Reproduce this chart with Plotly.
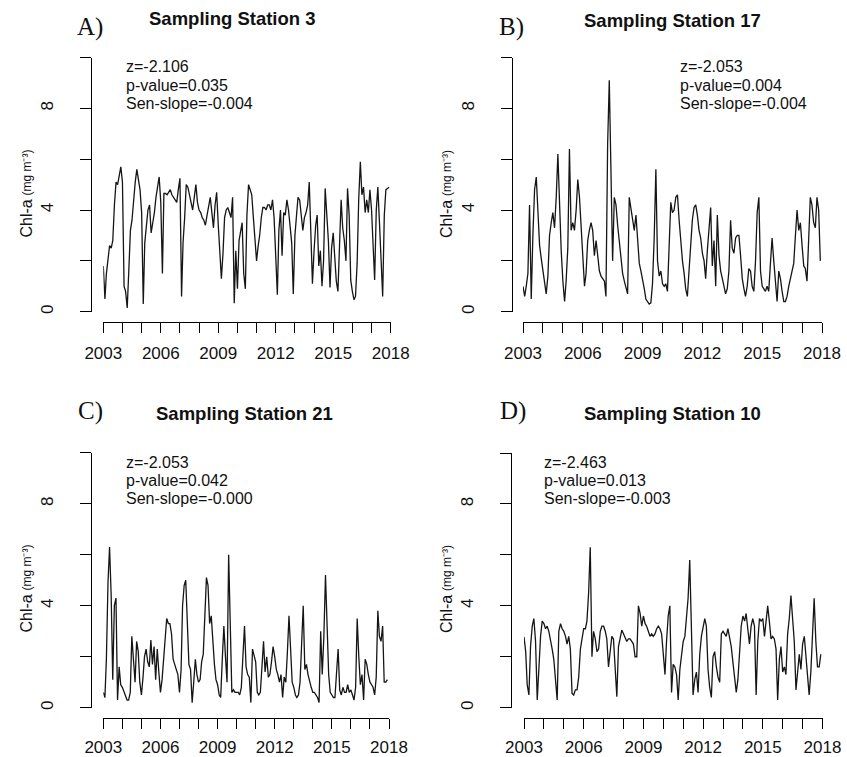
import pandas as pd
import plotly.graph_objects as go

# Monthly chlorophyll-a (mg m^-3), Jan 2003 - Dec 2017
months = pd.date_range("2003-01-01", periods=180, freq="MS")

station_3 = [
    1.8, 0.5, 1.5, 2.2, 2.6, 2.5, 2.8, 4.2, 5.1, 5.0,
    5.3, 5.7, 5.1, 1.0, 0.8, 0.15, 1.6, 3.2, 3.6, 4.4,
    5.1, 5.6, 5.2, 4.8, 3.9, 0.3, 2.7, 3.5, 4.0, 4.2,
    3.1, 3.5, 3.9, 4.5, 5.0, 5.3, 4.3, 1.5, 4.65, 4.65,
    4.6, 4.7, 4.8, 4.6, 4.5, 4.4, 4.3, 4.8, 5.25, 0.6,
    2.7, 3.7, 5.0, 4.9, 4.6, 4.2, 4.0, 4.5, 5.0, 4.3,
    4.0, 3.9, 3.7, 3.6, 3.4, 3.8, 4.2, 4.5, 3.9, 3.3,
    4.2, 4.7, 3.4, 2.05, 1.3, 2.3, 3.7, 4.0, 4.1, 3.9,
    3.7, 4.5, 0.33, 2.4, 0.9, 2.8, 3.1, 3.5, 1.5, 0.9,
    3.8, 5.0, 4.8, 4.6, 3.7, 2.8, 2.0, 2.6, 3.0, 3.7,
    4.1, 4.1, 4.0, 4.2, 4.2, 4.0, 4.4, 3.7, 2.2, 0.67,
    3.2, 4.0, 2.2, 3.9, 3.8, 4.4, 4.0, 3.3, 2.7, 0.7,
    3.0, 3.8, 4.5, 4.4, 3.8, 3.2, 3.7, 3.9, 4.2, 5.1,
    3.1, 1.1, 2.4, 3.4, 3.8, 1.8, 2.4, 1.0, 2.0, 4.85,
    3.8, 2.8, 0.95, 2.5, 3.1, 1.8, 1.2, 0.8, 2.5, 4.4,
    3.3, 2.8, 2.0, 4.85, 3.8, 1.25, 0.8, 0.47, 0.6, 1.9,
    4.4, 5.9, 4.6, 4.9, 3.9, 4.4, 3.9, 4.8, 4.0, 2.8,
    1.25, 4.0, 4.9, 3.5, 1.65, 0.6, 3.8, 4.8, 4.85, 4.9,
]

station_17 = [
    1.0, 0.6, 1.0, 1.5, 4.2, 0.5, 3.0, 4.8, 5.3, 4.0,
    2.6, 2.1, 1.6, 1.0, 0.7, 1.4, 3.0, 3.5, 3.9, 3.3,
    4.5, 6.2, 4.2, 2.4, 1.2, 0.4, 1.2, 2.5, 6.4, 3.2,
    3.5, 3.2, 4.0, 5.2, 4.5, 3.2, 2.0, 1.0, 1.5, 2.8,
    3.2, 3.5, 3.2, 2.2, 2.8, 2.3, 1.6, 1.4, 1.3, 1.2,
    0.6, 6.6, 9.1, 5.4, 2.0, 4.5, 4.2, 3.4, 2.8, 2.1,
    1.5, 1.2, 1.0, 0.7, 4.5, 4.0, 3.5, 3.2, 3.8, 2.9,
    1.9, 1.6, 1.3, 0.9, 0.5, 0.4, 0.3, 0.35, 1.1, 2.9,
    5.6, 2.0, 1.4, 1.6, 1.1, 1.0, 1.1, 0.8, 2.6, 4.3,
    3.9, 4.0, 4.5, 4.6, 3.6, 2.6, 2.0, 1.5, 0.9, 0.6,
    1.5, 2.5, 3.6, 4.1, 4.2, 3.8, 3.2, 2.9, 2.3, 2.0,
    1.3, 2.4, 3.2, 4.1, 1.8, 2.8, 1.0, 3.8, 2.2, 1.6,
    1.3, 1.0, 0.7, 0.9, 1.6, 3.6, 2.5, 2.3, 2.9, 3.0,
    3.0, 2.2, 1.3, 0.9, 0.6, 1.0, 1.7, 1.6, 1.0, 0.8,
    2.0, 3.9, 4.5, 1.6, 1.0, 0.9, 0.8, 1.0, 0.8, 1.9,
    2.9, 2.0, 1.1, 0.4, 1.6, 1.3, 0.8, 0.4, 0.4, 0.6,
    1.0, 1.3, 1.6, 1.9, 3.0, 4.0, 3.2, 3.5, 2.6, 1.8,
    1.7, 1.2, 2.8, 4.5, 4.2, 3.5, 3.3, 4.5, 4.0, 2.0,
]

station_21 = [
    0.6, 0.4, 1.9, 4.9, 6.3, 4.4, 1.1, 4.0, 4.3, 0.3,
    1.6, 0.9, 0.8, 0.6, 0.5, 0.3, 0.3, 0.6, 2.8, 1.7,
    1.0, 2.6, 2.2, 1.0, 0.5, 1.2, 2.0, 2.3, 1.8, 1.6,
    2.65, 1.7, 2.4, 1.1, 2.3, 1.4, 0.6, 1.1, 1.9, 3.0,
    3.5, 3.3, 3.3, 2.9, 1.9, 1.7, 1.5, 1.3, 0.6, 1.5,
    4.0, 4.8, 5.0, 2.8, 1.7, 1.5, 0.2, 1.0, 1.9, 1.3,
    1.0, 1.1, 1.8, 2.1, 3.4, 5.1, 4.8, 3.3, 3.6, 2.6,
    1.7, 1.1, 0.9, 0.5, 0.4, 1.9, 3.2, 2.0, 1.0, 6.0,
    3.0, 0.6, 0.7, 0.6, 0.6, 0.6, 0.5, 0.8, 2.0, 3.2,
    1.6, 1.3, 1.2, 0.2, 2.3, 2.1, 1.8, 0.6, 0.5, 0.6,
    1.7, 2.6, 1.4, 2.0, 1.2, 1.3, 1.8, 2.4, 2.0, 1.5,
    1.3, 1.0, 1.3, 0.4, 1.2, 1.0, 2.2, 3.6, 2.3, 1.0,
    0.8, 0.5, 0.4, 0.5, 1.0, 2.6, 4.0, 1.5, 1.7, 1.3,
    1.0, 0.8, 0.6, 0.6, 0.5, 0.4, 0.2, 3.0, 1.3, 2.8,
    5.2, 3.4, 1.3, 0.6, 0.5, 0.4, 0.4, 1.5, 2.3, 0.7,
    0.5, 0.8, 0.6, 0.6, 0.9, 0.6, 0.7, 0.5, 0.3, 0.8,
    3.5, 2.0, 0.9, 1.3, 0.3, 1.9, 1.7, 1.3, 1.0, 0.9,
    0.8, 0.5, 1.2, 3.8, 2.8, 2.6, 3.2, 1.0, 1.0, 1.1,
]

station_10 = [
    2.78, 2.2, 0.9, 0.5, 2.4, 3.2, 3.5, 2.6, 0.3, 1.6,
    2.8, 3.4, 3.3, 3.1, 3.2, 3.0, 2.7, 2.3, 1.9, 1.2,
    0.3, 3.0, 3.3, 3.1, 3.0, 2.8, 2.5, 2.8, 2.3, 0.56,
    0.5, 0.7, 0.7, 1.2, 2.3, 2.7, 3.1, 3.1, 3.4, 4.5,
    6.3, 2.0, 3.0, 2.7, 2.2, 2.3, 3.0, 3.2, 3.2, 3.0,
    2.7, 1.6, 2.3, 2.8, 2.7, 1.7, 0.43, 2.4, 2.8, 3.05,
    2.9, 2.7, 2.6, 2.7, 2.7, 2.6, 2.5, 2.0, 2.0, 4.0,
    3.7, 3.2, 3.6, 3.3, 3.2, 3.0, 2.8, 2.9, 2.8, 2.9,
    3.1, 3.2, 3.1, 2.9, 2.2, 1.3, 2.6, 3.6, 4.0, 0.6,
    1.7, 1.6, 1.3, 0.3, 1.5, 2.1, 2.6, 2.8, 3.4, 4.3,
    5.8, 2.5, 0.5, 1.1, 1.4, 0.6, 2.1, 2.8, 3.1, 3.5,
    3.2, 1.5, 0.8, 0.4, 2.0, 2.2, 1.6, 1.2, 1.0, 2.9,
    3.0, 2.9, 2.8, 3.1, 2.8, 2.4, 1.8, 1.1, 0.6, 1.1,
    2.3, 3.2, 3.6, 3.4, 3.7, 3.0, 2.5, 3.2, 3.5, 3.2,
    0.5, 2.6, 3.5, 3.4, 3.5, 2.8, 3.4, 4.0, 3.4, 2.7,
    2.8, 2.7, 2.3, 0.3, 1.9, 2.4, 1.4, 1.6, 1.3, 2.9,
    3.5, 4.4, 3.5, 2.6, 0.7, 1.3, 2.1, 1.5, 2.5, 2.8,
    2.1, 1.5, 0.5, 1.4, 3.0, 4.3, 2.6, 1.6, 1.6, 2.1,
]

panel_letters = ["A)", "B)", "C)", "D)"]
panel_titles = ["Sampling Station 3", "Sampling Station 17",
                "Sampling Station 21", "Sampling Station 10"]
panel_series = [station_3, station_17, station_21, station_10]
panel_stats = [
    ["z=-2.106", "p-value=0.035", "Sen-slope=-0.004"],
    ["z=-2.053", "p-value=0.004", "Sen-slope=-0.004"],
    ["z=-2.053", "p-value=0.042", "Sen-slope=-0.000"],
    ["z=-2.463", "p-value=0.013", "Sen-slope=-0.003"],
]
ylab_name = "Chl-a"
ylab_unit = "(mg m\u207b\u00b3)"

# labelled ticks every 3 years / every 4 units, plain ticks in between
year_major = [2003, 2006, 2009, 2012, 2015, 2018]
year_minor = list(range(2003, 2019))
chl_major = [0, 4, 8]
chl_minor = [0, 2, 4, 6, 8, 10]

W, H = 847, 757
SANS = "Liberation Sans, Arial, sans-serif"
SERIF = "Liberation Serif, Times New Roman, serif"

# pixel geometry of each panel: first/last year tick, y-axis line, y=0 and y=10, x-axis line
geom = [
    dict(x0=103.3, x1=390.7, yline=91.0, y0=311.7, y10=57.5, xline=322.0, xstand=6,
         letter=(90, 27), title=(232, 19), stats=(124, 67), ylab=(25.5, 219, 173)),
    dict(x0=523.0, x1=822.0, yline=511.5, y0=311.7, y10=57.5, xline=322.0, xstand=6,
         letter=(511, 27), title=(672, 20), stats=(678, 67), ylab=(446, 219, 173)),
    dict(x0=103.3, x1=389.0, yline=91.0, y0=707.7, y10=452.7, xline=718.0, xstand=4,
         letter=(90, 411), title=(245, 413), stats=(124, 462), ylab=(25.5, 614, 568)),
    dict(x0=524.0, x1=822.5, yline=511.0, y0=707.7, y10=453.0, xline=718.0, xstand=4,
         letter=(513, 411), title=(672, 413), stats=(542, 462), ylab=(446, 614, 568)),
]


def fx(px):
    return px / W


def fy(py):
    return 1 - py / H


def note(text, x, y, size, family=SANS, xanchor="center", angle=0):
    return dict(text=text, x=fx(x), y=fy(y), xref="paper", yref="paper",
                xanchor=xanchor, yanchor="middle", textangle=angle,
                showarrow=False, font=dict(family=family, size=size, color="#111"))


fig = go.Figure()
annotations = []
layout_axes = {}

for k, (g, vals) in enumerate(zip(geom, panel_series)):
    n = "" if k == 0 else str(k + 1)
    fig.add_trace(go.Scatter(
        x=months, y=vals, mode="lines",
        line=dict(color="#151515", width=1.3),
        xaxis="x" + n, yaxis="y" + n, showlegend=False, hoverinfo="skip",
    ))
    layout_axes["xaxis" + n] = dict(
        domain=[fx(g["x0"]), fx(g["x1"])],
        range=["2003-01-01", "2018-01-01"],
        anchor="free", position=fy(g["xline"]), automargin=False,
        tickmode="array",
        tickvals=[f"{y}-01-01" for y in year_major],
        ticktext=[str(y) for y in year_major],
        ticks="outside", ticklen=10, tickwidth=1, tickcolor="#000",
        minor=dict(tickmode="array", tickvals=[f"{y}-01-01" for y in year_minor],
                   ticks="outside", ticklen=10, tickwidth=1, tickcolor="#000",
                   showgrid=False),
        showline=True, linecolor="#000", linewidth=1,
        showgrid=False, zeroline=False,
        ticklabelstandoff=g["xstand"],
        tickfont=dict(family=SANS, size=17, color="#111"),
    )
    layout_axes["yaxis" + n] = dict(
        domain=[fy(g["y0"]), fy(g["y10"])],
        range=[0, 10],
        anchor="free", position=fx(g["yline"]), automargin=False,
        tickmode="array", tickvals=chl_major, ticktext=[str(v) for v in chl_major],
        ticks="outside", ticklen=11, tickwidth=1, tickcolor="#000",
        minor=dict(tickmode="array", tickvals=chl_minor,
                   ticks="outside", ticklen=11, tickwidth=1, tickcolor="#000",
                   showgrid=False),
        tickangle=-90,
        showline=True, linecolor="#000", linewidth=1,
        showgrid=False, zeroline=False,
        ticklabelstandoff=20,
        tickfont=dict(family=SANS, size=17, color="#111"),
    )

    lx, ly = g["letter"]
    annotations.append(note(panel_letters[k], lx, ly, 25, family=SERIF))
    tx, ty = g["title"]
    annotations.append(note("<b>" + panel_titles[k] + "</b>", tx, ty, 18.5))
    sx, sy = g["stats"]
    for j, line in enumerate(panel_stats[k]):
        annotations.append(note(line, sx, sy + 18.3 * j, 16, xanchor="left"))
    ax, ay_name, ay_unit = g["ylab"]
    annotations.append(note(ylab_name, ax, ay_name, 16, angle=-90))
    annotations.append(note(ylab_unit, ax + 1, ay_unit, 12, angle=-90))

fig.update_layout(
    width=W, height=H,
    margin=dict(l=0, r=0, t=0, b=0, pad=0, autoexpand=False),
    paper_bgcolor="white", plot_bgcolor="white",
    showlegend=False,
    annotations=annotations,
    **layout_axes,
)

fig.write_html("out.html")
